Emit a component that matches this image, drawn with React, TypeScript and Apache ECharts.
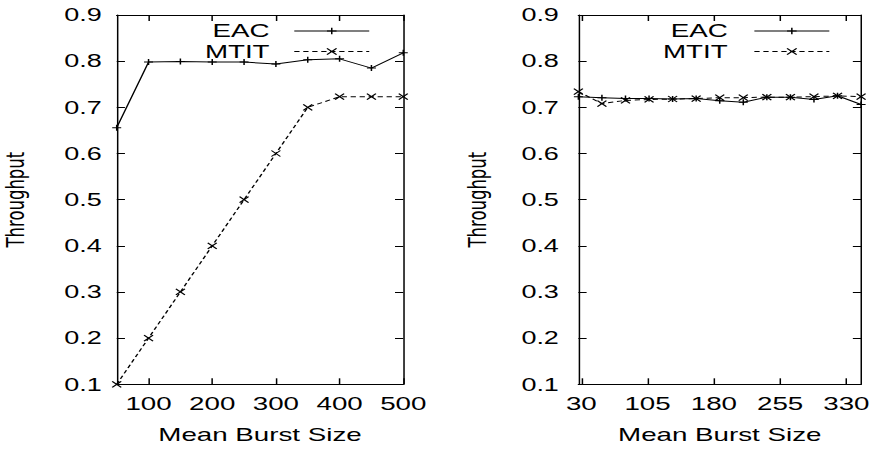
import React, { useEffect, useRef } from "react";
import * as echarts from "echarts";

// ---- data ----
const leftX = [50, 100, 150, 200, 250, 300, 350, 400, 450, 500];
const leftEAC = [0.656, 0.798, 0.799, 0.798, 0.798, 0.794, 0.803, 0.805, 0.785, 0.818];
const leftMTIT = [0.1, 0.2, 0.3, 0.4, 0.5, 0.6, 0.7, 0.723, 0.723, 0.723];

const rightX = [26.67, 53.33, 80, 106.67, 133.33, 160, 186.67, 213.33, 240, 266.67, 293.33, 320, 346.67];
const rightEAC = [0.723, 0.721, 0.719, 0.719, 0.718, 0.719, 0.714, 0.711, 0.722, 0.722, 0.717, 0.725, 0.706];
const rightMTIT = [0.734, 0.708, 0.715, 0.717, 0.718, 0.719, 0.721, 0.721, 0.722, 0.722, 0.723, 0.725, 0.723];

const leftXTicks = [100, 200, 300, 400, 500];
const rightXTicks = [30, 105, 180, 255, 330];
const seriesNames = ["EAC", "MTIT"];
const xTitle = "Mean Burst Size";
const yTitle = "Throughput";

const W = 583;
const H = 450;
const S = 874 / W;

const FONT = "Liberation Sans";
const PLUS = "path://M0,5L10,5M5,0L5,10";
const CROSS = "path://M0,0L10,10M0,10L10,0";

export default function App() {
  const ref = useRef<HTMLDivElement>(null);

  useEffect(() => {
    document.body.style.margin = "0";
    document.body.style.overflow = "hidden";
    const chart = echarts.init(ref.current!, undefined, { renderer: "svg" });

    const axisLine = { show: true, lineStyle: { color: "#000", width: 1 } };
    const xBottom = (gi: number, min: number, max: number, ticks: number[]) => ({
      type: "value",
      gridIndex: gi,
      position: "bottom",
      min,
      max,
      axisLine,
      axisTick: { show: true, inside: true, length: 6, customValues: ticks, lineStyle: { color: "#000" } },
      axisLabel: {
        show: true,
        customValues: ticks,
        margin: 10,
        fontFamily: FONT,
        fontSize: 18.5,
        color: "#000",
      },
      splitLine: { show: false },
      name: xTitle,
      nameLocation: "middle",
      nameGap: 41,
      nameTextStyle: { fontFamily: FONT, fontSize: 18.5, color: "#000" },
    });
    const xTop = (gi: number, min: number, max: number, ticks: number[]) => ({
      type: "value",
      gridIndex: gi,
      position: "top",
      min,
      max,
      axisLine,
      axisTick: { show: true, inside: true, length: 6, customValues: ticks, lineStyle: { color: "#000" } },
      axisLabel: { show: false },
      splitLine: { show: false },
    });
    const yLeft = (gi: number, margin: number) => ({
      type: "value",
      gridIndex: gi,
      position: "left",
      min: 0.1,
      max: 0.9,
      interval: 0.1,
      axisLine,
      axisTick: { show: true, inside: true, length: 5.5, lineStyle: { color: "#000" } },
      axisLabel: {
        show: true,
        margin,
        fontFamily: FONT,
        fontSize: 18,
        color: "#000",
        formatter: (v: number) => v.toFixed(1),
      },
      splitLine: { show: false },
      name: yTitle,
      nameLocation: "middle",
      nameRotate: 90,
      nameGap: 59,
      nameTextStyle: { fontFamily: "DejaVu Sans", fontSize: 16.5, color: "#000" },
    });
    const yRight = (gi: number) => ({
      type: "value",
      gridIndex: gi,
      position: "right",
      min: 0.1,
      max: 0.9,
      interval: 0.1,
      axisLine,
      axisTick: { show: true, inside: true, length: 5.5, lineStyle: { color: "#000" } },
      axisLabel: { show: false },
      splitLine: { show: false },
    });

    const mkSeries = (
      name: string,
      xs: number[],
      ys: number[],
      xi: number,
      yi: number,
      dashed: boolean
    ) => ({
      type: "line",
      name,
      xAxisIndex: xi,
      yAxisIndex: yi,
      data: xs.map((x, i) => [x, ys[i]]),
      symbol: dashed ? CROSS : PLUS,
      symbolSize: 6,
      showSymbol: true,
      lineStyle: { color: "#000", width: 1, type: dashed ? [3.5, 2.5] : "solid" },
      itemStyle: { color: "#000", borderColor: "#000", borderWidth: 1 },
      emphasis: { disabled: true },
      z: dashed ? 3 : 2,
    });

    const legend = (right: number, padRight: number) => ({
      orient: "vertical",
      align: "right",
      right,
      top: 21.5,
      padding: 0,
      itemGap: 1.5,
      itemWidth: 50,
      itemHeight: 8,
      selectedMode: false,
      data: seriesNames,
      lineStyle: { width: 1 },
      itemStyle: { borderWidth: 1 },
      textStyle: {
        fontFamily: FONT,
        fontSize: 18.5,
        color: "#000",
        padding: [0, padRight, 0, 0],
      },
    });

    chart.setOption({
      animation: false,
      backgroundColor: "#fff",
      grid: [
        { left: 77.85, right: 314, top: 15, bottom: 65.7, containLabel: false },
        { left: 385.8, right: 6, top: 15, bottom: 65.7, containLabel: false },
      ],
      xAxis: [
        xBottom(0, 50, 500, leftXTicks),
        xTop(0, 50, 500, leftXTicks),
        xBottom(1, 26.67, 346.67, rightXTicks),
        xTop(1, 26.67, 346.67, rightXTicks),
      ],
      yAxis: [yLeft(0, 10), yRight(0), yLeft(1, 13), yRight(1)],
      legend: [legend(336.2, 11.5), legend(29.3, 12.8)],
      series: [
        mkSeries(seriesNames[0], leftX, leftEAC, 0, 0, false),
        mkSeries(seriesNames[1], leftX, leftMTIT, 0, 0, true),
        mkSeries(seriesNames[0], rightX, rightEAC, 2, 2, false),
        mkSeries(seriesNames[1], rightX, rightMTIT, 2, 2, true),
      ],
    });

    return () => chart.dispose();
  }, []);

  return (
    <div
      ref={ref}
      style={{
        position: "absolute",
        left: 0,
        top: 0,
        width: W,
        height: H,
        transform: `scaleX(${S})`,
        transformOrigin: "0 0",
      }}
    />
  );
}
